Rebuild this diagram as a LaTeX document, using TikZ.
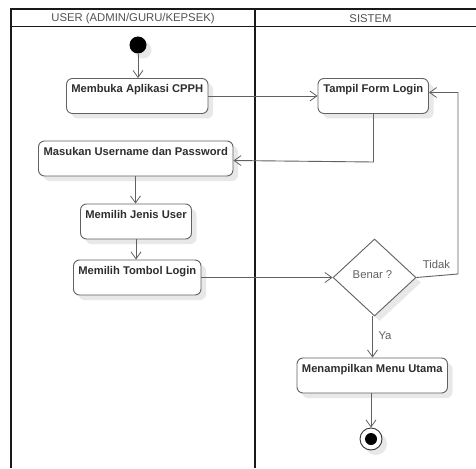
\documentclass[tikz,border=0pt]{standalone}
\usepackage{fontspec}
\setmainfont{Liberation Sans}
\usetikzlibrary{arrows.meta,shapes.geometric,shadows}
\tikzset{
  x=1pt,y=-1pt,
  softshadow/.style={drop shadow={shadow xshift=5pt,shadow yshift=-5pt,fill=black!9,opacity=1}},
  act/.style={draw=black!62,line width=0.9pt,rounded corners=6pt,fill=white,softshadow,inner xsep=0pt,inner ysep=0pt,
    text height=14.5pt,text depth=20.5pt,font=\fontsize{11.2}{13}\selectfont\bfseries,text=black!82,anchor=center},
  lane/.style={draw=black!90,line width=1.1pt},
  head/.style={font=\fontsize{11.3}{13}\selectfont,text=black!68,inner sep=0pt},
  conn/.style={draw=black!62,line width=0.9pt,-{Straight Barb[length=7pt,width=10pt,line width=0.8pt]}},
  tag/.style={font=\fontsize{11.3}{13}\selectfont,text=black!62,inner sep=0pt},
}
\begin{document}
\begin{tikzpicture}
\useasboundingbox (0,0) rectangle (476,468);
\fill[white] (0,0) rectangle (476,468);
% swimlanes
\draw[lane] (11,468) -- (11,9) -- (476,9);
\draw[lane] (11,26.5) -- (476,26.5);
\draw[lane] (255,9) -- (255,468);
\node[head] (h1) at (133,18.5) {USER (ADMIN/GURU/KEPSEK)};
\node[head] (h2) at (370.5,18.5) {SISTEM};
% start
\node[circle,fill=black,inner sep=0pt,minimum size=17pt,softshadow] (start) at (138,45) {};
% activities
\node[act,minimum width=141.5pt] (a) at (137.25,96) {Membuka Aplikasi CPPH};
\node[act,minimum width=194.5pt] (b) at (135.75,158.5) {Masukan Username dan Password};
\node[act,minimum width=111pt] (c) at (136,221.5) {Memilih Jenis User};
\node[act,minimum width=127.5pt] (d) at (137.25,277.5) {Memilih Tombol Login};
\node[act,minimum width=110.5pt] (e) at (373.25,96) {Tampil Form Login};
\node[act,minimum width=150.5pt] (f) at (372.25,375.5) {Menampilkan Menu Utama};
% decision
\node[diamond,aspect=1.078,draw=black!62,line width=0.9pt,fill=white,softshadow,inner sep=0pt,minimum width=83pt,minimum height=77pt,
  font=\fontsize{11.3}{13}\selectfont,text=black!62] (g) at (374.5,277.5) {\raisebox{5pt}{Benar ?}\hspace*{4pt}};
% end
\node[circle,draw=black!80,line width=0.9pt,fill=white,inner sep=0pt,minimum size=22pt,softshadow] (endn) at (371,439) {};
\node[circle,fill=black,inner sep=0pt,minimum size=12pt] (endi) at (371,439) {};
% connectors
\draw[conn] (start) -- (a.north -| start);
\draw[conn] (a.east) -- (e.west);
\coordinate (c1) at (373.5,162);
\draw[conn] (e.south -| c1) -- (c1) -- (b.east |- 0,160.5);
\draw[conn] (b.south -| 135.5,0) -- (c.north -| 135.5,0);
\draw[conn] (c.south -| 136,0) -- (d.north -| 136,0);
\draw[conn] (d.east) -- (g.west);
\coordinate (c2) at (458,274);
\coordinate (c3) at (458,92.5);
\draw[conn] (g.east) -- (c2) -- (c3) -- (e.east |- c3);
\draw[conn] (g.south -| 372.5,0) -- (f.north -| 372.5,0);
\draw[conn] (f.south -| endn) -- (endn.north);
% labels
\node[tag] (l1) at (436.5,264.5) {Tidak};
\node[tag] (l2) at (385,336) {Ya};
\end{tikzpicture}
\end{document}
